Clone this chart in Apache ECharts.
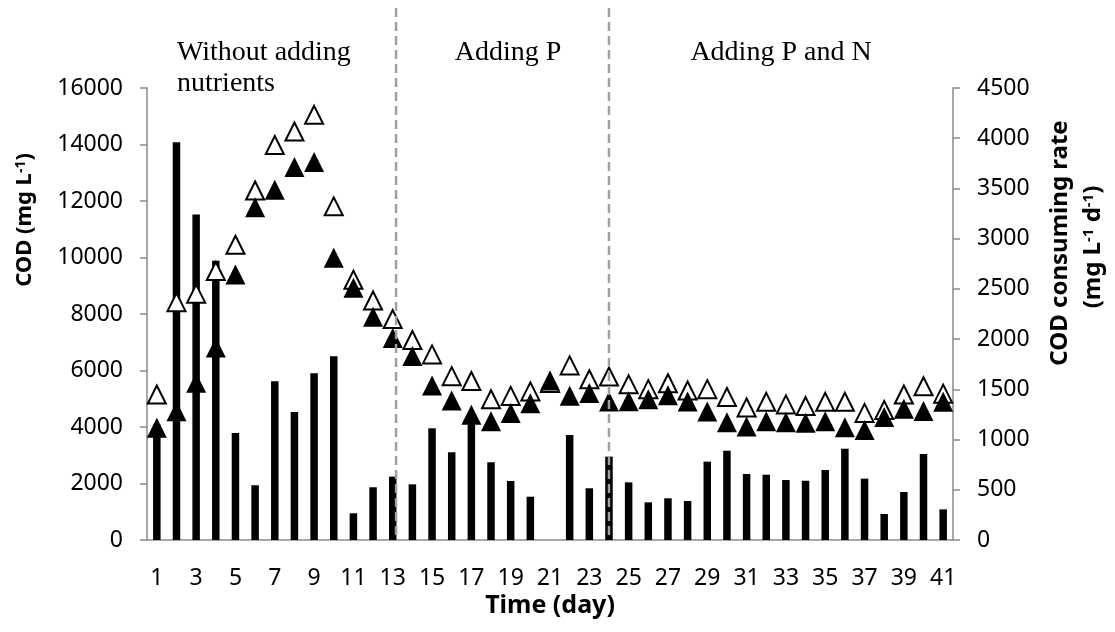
<!DOCTYPE html>
<html>
<head>
<meta charset="utf-8">
<script src="https://cdn.jsdelivr.net/npm/echarts@6/dist/echarts.min.js"></script>
<style>
  html, body { margin: 0; padding: 0; background: #ffffff; }
  #chart { width: 1115px; height: 632px; }
</style>
</head>
<body>
<div id="chart"></div>
<script>
// Sampling days
const days = ['1','2','3','4','5','6','7','8','9','10','11','12','13','14','15','16','17','18','19','20',
              '21','22','23','24','25','26','27','28','29','30','31','32','33','34','35','36','37','38','39','40','41'];

// COD (mg/L), open triangles
const codOpen = [5150, 8420, 8720, 9520, 10450, 12370, 13980, 14460, 15050, 11810,
                 9210, 8480, 7820, 7080, 6570, 5800, 5630, 4980, 5100, 5260,
                 5560, 6180, 5690, 5790, 5510, 5340, 5550, 5290, 5340, 5060,
                 4690, 4890, 4800, 4740, 4890, 4890, 4500, 4600, 5150, 5440, 5180];

// COD (mg/L), filled triangles
const codFilled = [3970, 4560, 5570, 6810, 9400, 11780, 12400, 13200, 13380, 9990,
                   8930, 7900, 7150, 6510, 5470, 4940, 4430, 4200, 4500, 4840,
                   5650, 5110, 5200, 4900, 4910, 4980, 5120, 4900, 4550, 4170,
                   4020, 4200, 4170, 4150, 4200, 3990, 3890, 4350, 4650, 4570, 4890];

// COD consuming rate (mg/L/d), bars on the right axis
const consumingRate = [1150, 3960, 3240, 2780, 1065, 545, 1580, 1275, 1660, 1830,
                       266, 525, 631, 554, 1112, 873, 1250, 774, 587, 431,
                       0, 1045, 515, 830, 574, 375, 415, 388, 780, 889,
                       657, 650, 597, 590, 697, 909, 611, 259, 478, 856, 305];

// Experimental phases and the days where the next phase begins
const phaseNames = ['Without adding\nnutrients', 'Adding P', 'Adding P and N'];
const phaseBreaks = [13.17, 24];

const axisGray = '#8a8a8a';
const tickFont = 'Noto Sans';

const chart = echarts.init(document.getElementById('chart'), null, { renderer: 'canvas' });

const valueAxisBase = {
  type: 'value',
  min: 0,
  splitLine: { show: false },
  axisLine: { show: true, lineStyle: { color: axisGray, width: 1.5 } },
  axisTick: { show: true, length: 7, lineStyle: { color: axisGray, width: 1.5 } },
  axisLabel: {
    color: '#000', fontFamily: tickFont, fontSize: 23, margin: 24,
    formatter: function (v) { return String(v); }
  }
};

chart.setOption({
  animation: false,
  grid: { left: 147, right: 162, top: 88, bottom: 92 },
  xAxis: {
    type: 'category',
    data: days,
    boundaryGap: true,
    axisLine: { lineStyle: { color: axisGray, width: 1.5 } },
    axisTick: { interval: 0, length: 7, lineStyle: { color: axisGray, width: 1.5 } },
    axisLabel: { interval: 1, color: '#000', fontFamily: tickFont, fontSize: 23, margin: 27 }
  },
  yAxis: [
    Object.assign({}, valueAxisBase, { max: 16000, interval: 2000, position: 'left' }),
    Object.assign({}, valueAxisBase, { max: 4500, interval: 500, position: 'right' })
  ],
  series: [
    {
      name: 'COD 1',
      type: 'scatter',
      data: codOpen,
      symbol: 'triangle',
      symbolSize: 18,
      itemStyle: { color: '#ffffff', borderColor: '#000000', borderWidth: 2, opacity: 1 }
    },
    {
      name: 'COD 2',
      type: 'scatter',
      data: codFilled,
      symbol: 'triangle',
      symbolSize: 20,
      itemStyle: { color: '#000000', opacity: 1 }
    },
    {
      name: 'COD consuming rate',
      type: 'bar',
      yAxisIndex: 1,
      data: consumingRate,
      barWidth: 7.5,
      itemStyle: { color: '#000000' }
    }
  ]
});

// Pixel position of a (possibly fractional) day on the category axis
function dayToX(d) {
  const i = Math.floor(d) - 1;
  const x0 = chart.convertToPixel({ xAxisIndex: 0 }, i);
  const x1 = chart.convertToPixel({ xAxisIndex: 0 }, i + 1);
  return x0 + (d - Math.floor(d)) * (x1 - x0);
}
const baseY = chart.convertToPixel({ yAxisIndex: 0 }, 0);

const graphics = [];
phaseBreaks.forEach(function (d) {
  const x = dayToX(d);
  graphics.push({
    type: 'line',
    z: 100,
    shape: { x1: x, y1: 8, x2: x, y2: baseY },
    style: { stroke: '#a0a0a0', lineWidth: 2.5, lineDash: [9, 5] }
  });
});

const phaseFont = { fontFamily: 'Liberation Serif', fontSize: 28, fill: '#000', lineHeight: 31 };
graphics.push(
  { type: 'text', z: 100, x: 177, y: 37, style: Object.assign({ text: phaseNames[0], align: 'left', verticalAlign: 'top' }, phaseFont) },
  { type: 'text', z: 100, x: 508, y: 37, style: Object.assign({ text: phaseNames[1], align: 'center', verticalAlign: 'top' }, phaseFont) },
  { type: 'text', z: 100, x: 781, y: 37, style: Object.assign({ text: phaseNames[2], align: 'center', verticalAlign: 'top' }, phaseFont) }
);

// Axis titles with superscript units
function titleRich(size) {
  return {
    b: { fontFamily: tickFont, fontSize: size, fontWeight: 'bold', fill: '#000' },
    s: { fontFamily: tickFont, fontSize: Math.round(size * 0.62), fontWeight: 'bold', fill: '#000', verticalAlign: 'top', padding: [0, 0, 7, 0] }
  };
}
graphics.push(
  {
    type: 'text', x: 25, y: 220, rotation: Math.PI / 2,
    style: { text: '{b|COD (mg L}{s|-1}{b|)}', rich: titleRich(22), align: 'center', verticalAlign: 'middle' }
  },
  {
    type: 'text', x: 1060, y: 243, rotation: Math.PI / 2,
    style: { text: '{b|COD consuming rate}', rich: titleRich(24), align: 'center', verticalAlign: 'middle' }
  },
  {
    type: 'text', x: 1093, y: 247, rotation: Math.PI / 2,
    style: { text: '{b|(mg L}{s|-1}{b| d}{s|-1}{b|)}', rich: titleRich(24), align: 'center', verticalAlign: 'middle' }
  },
  {
    type: 'text', x: 550, y: 606,
    style: { text: 'Time (day)', fontFamily: tickFont, fontSize: 25, fontWeight: 'bold', fill: '#000', align: 'center', verticalAlign: 'middle' }
  }
);

chart.setOption({ graphic: graphics });
</script>
</body>
</html>
